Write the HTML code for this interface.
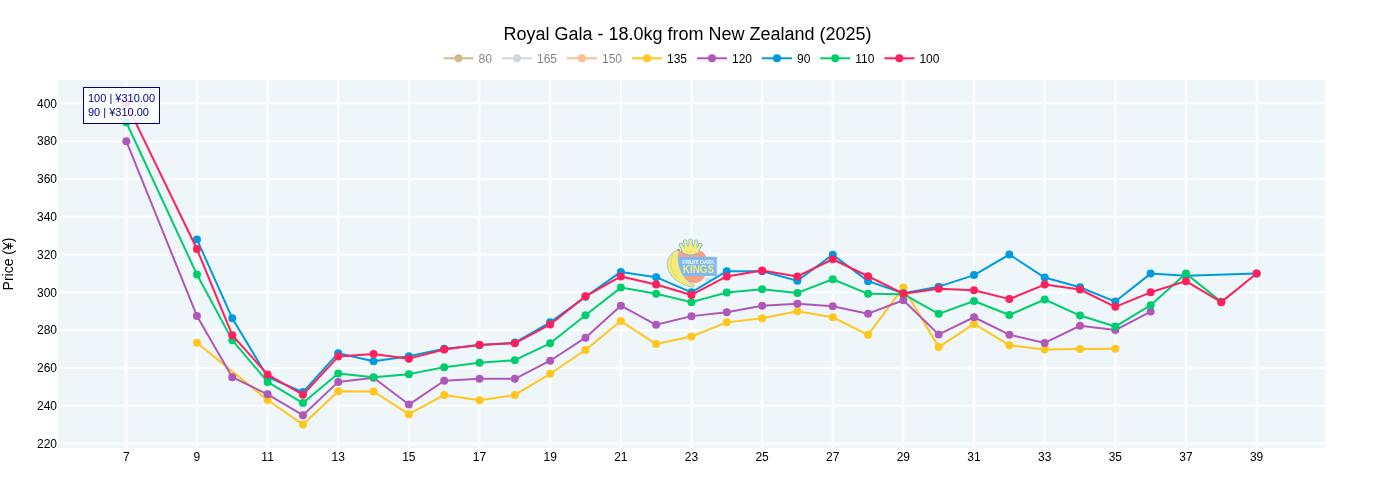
<!DOCTYPE html>
<html lang="en"><head><meta charset="utf-8"><title>Royal Gala - 18.0kg from New Zealand (2025)</title>
<style>html,body{margin:0;padding:0;background:#fff}body{width:1375px;height:500px;overflow:hidden}svg{display:block}text{font-family:"Liberation Sans",Arial,sans-serif;}</style>
</head><body>
<svg width="1375" height="500" viewBox="0 0 1375 500">
<rect width="1375" height="500" fill="#fff"/>
<rect x="58" y="80" width="1267" height="368" fill="#EEF6FA"/>
<g stroke="#fff" stroke-width="2" fill="none">
<path d="M126.30,80V448"/>
<path d="M196.94,80V448"/>
<path d="M267.59,80V448"/>
<path d="M338.23,80V448"/>
<path d="M408.88,80V448"/>
<path d="M479.52,80V448"/>
<path d="M550.16,80V448"/>
<path d="M620.81,80V448"/>
<path d="M691.45,80V448"/>
<path d="M762.10,80V448"/>
<path d="M832.74,80V448"/>
<path d="M903.38,80V448"/>
<path d="M974.03,80V448"/>
<path d="M1044.67,80V448"/>
<path d="M1115.32,80V448"/>
<path d="M1185.96,80V448"/>
<path d="M1256.60,80V448"/>
<path d="M58,443.50H1325"/>
<path d="M58,405.70H1325"/>
<path d="M58,367.91H1325"/>
<path d="M58,330.11H1325"/>
<path d="M58,292.32H1325"/>
<path d="M58,254.53H1325"/>
<path d="M58,216.73H1325"/>
<path d="M58,178.94H1325"/>
<path d="M58,141.14H1325"/>
<path d="M58,103.35H1325"/>
</g>
<g id="logo">
<path d="M678.5,250.8 L699.4,250.8 C704.6,251.4 707.8,257 707.8,265 C707.8,275 702.4,283.1 694.4,283.1 C686,283.1 679.4,277 677.4,268 Z" fill="#FA9F86"/>
<rect x="678.2" y="257" width="38.6" height="19" fill="#7DB9F8"/>
<path d="M677.5,249.9 C670.2,252.6 666.6,259.4 667.4,266.4 C668.6,276.6 680.2,285.6 693.2,287.2 L694.8,285.2 C688.0,282.8 681.8,275.4 679.2,266.4 C677.6,259.6 677.9,254.6 679.5,251.2 Z" fill="#F5EC78" stroke="#8CC3F5" stroke-width="0.9" stroke-linejoin="round"/>
<path d="M672.6,254.6 C669.6,261 670.6,270 676.4,277" fill="none" stroke="#E6DA6C" stroke-width="1.2" stroke-linecap="round"/>
<path d="M677.0,250.2 L677.9,248.7 L680.1,249.7 L679.6,251.5 Z" fill="#A98667"/>
<g fill="#F6EE72" stroke="#7ABAF6" stroke-width="1.7" stroke-linejoin="round"><path d="M683.0,252.4 L680.3,245.5 L681.7,244.9 L684.5,248.5 L684.6,241.9 L685.9,241.8 L688.0,248.0 L690.0,240.9 L691.2,240.9 L693.2,248.0 L695.3,241.8 L696.6,241.9 L696.7,248.5 L699.5,244.9 L700.9,245.5 L698.2,252.4 Q690.6,256.6 683.0,252.4 Z"/><circle cx="681.0" cy="245.1" r="1.45"/><circle cx="685.2" cy="241.8" r="1.45"/><circle cx="690.6" cy="240.8" r="1.45"/><circle cx="696.0" cy="241.8" r="1.45"/><circle cx="700.2" cy="245.1" r="1.45"/></g>
<g fill="#F6EE72"><path d="M683.0,252.4 L680.3,245.5 L681.7,244.9 L684.5,248.5 L684.6,241.9 L685.9,241.8 L688.0,248.0 L690.0,240.9 L691.2,240.9 L693.2,248.0 L695.3,241.8 L696.6,241.9 L696.7,248.5 L699.5,244.9 L700.9,245.5 L698.2,252.4 Q690.6,256.6 683.0,252.4 Z"/><circle cx="681.0" cy="245.1" r="1.45"/><circle cx="685.2" cy="241.8" r="1.45"/><circle cx="690.6" cy="240.8" r="1.45"/><circle cx="696.0" cy="241.8" r="1.45"/><circle cx="700.2" cy="245.1" r="1.45"/></g>
<g fill="#A9CDE8"><circle cx="686.4" cy="251.3" r="0.55"/><circle cx="690.6" cy="251.6" r="0.55"/><circle cx="694.7" cy="251.3" r="0.55"/></g>
<text x="682.6" y="263.6" font-size="5" fill="#FFFFFF" stroke="#FFFFFF" stroke-width="0.15" textLength="31.2" lengthAdjust="spacingAndGlyphs">FRUIT DATA</text>
<text x="682.8" y="272.7" font-size="10.3" font-weight="bold" fill="#F5EC78" textLength="31.4" lengthAdjust="spacingAndGlyphs">KINGS</text>
<text x="704.9" y="280.5" font-size="2.8" font-weight="bold" fill="#8CC3F5" textLength="6" lengthAdjust="spacingAndGlyphs">.COM</text>
</g>
<defs><clipPath id="pc"><rect x="58" y="80" width="1267" height="368"/></clipPath></defs>
<g clip-path="url(#pc)">
<path d="M196.94,342.77 L267.59,400.03 L302.91,424.60 L338.23,391.34 L373.55,391.53 L408.88,414.21 L444.20,394.93 L479.52,400.22 L514.84,394.93 L550.16,373.77 L585.49,349.96 L620.81,321.04 L656.13,344.10 L691.45,336.54 L726.77,322.37 L762.10,318.21 L797.42,311.22 L832.74,317.26 L868.06,334.84 L903.38,287.41 L938.71,347.12 L974.03,323.88 L1009.35,345.23 L1044.67,349.39 L1079.99,349.01 L1115.32,348.82" fill="none" stroke="#FFC61E" stroke-width="2" stroke-linejoin="round"/>
<g fill="#FFC61E"><circle cx="196.94" cy="342.77" r="4"/><circle cx="267.59" cy="400.03" r="4"/><circle cx="302.91" cy="424.60" r="4"/><circle cx="338.23" cy="391.34" r="4"/><circle cx="373.55" cy="391.53" r="4"/><circle cx="408.88" cy="414.21" r="4"/><circle cx="444.20" cy="394.93" r="4"/><circle cx="479.52" cy="400.22" r="4"/><circle cx="514.84" cy="394.93" r="4"/><circle cx="550.16" cy="373.77" r="4"/><circle cx="585.49" cy="349.96" r="4"/><circle cx="620.81" cy="321.04" r="4"/><circle cx="656.13" cy="344.10" r="4"/><circle cx="691.45" cy="336.54" r="4"/><circle cx="726.77" cy="322.37" r="4"/><circle cx="762.10" cy="318.21" r="4"/><circle cx="797.42" cy="311.22" r="4"/><circle cx="832.74" cy="317.26" r="4"/><circle cx="868.06" cy="334.84" r="4"/><circle cx="903.38" cy="287.41" r="4"/><circle cx="938.71" cy="347.12" r="4"/><circle cx="974.03" cy="323.88" r="4"/><circle cx="1009.35" cy="345.23" r="4"/><circle cx="1044.67" cy="349.39" r="4"/><circle cx="1079.99" cy="349.01" r="4"/><circle cx="1115.32" cy="348.82" r="4"/></g>
<path d="M126.30,141.14 L196.94,315.94 L232.27,377.17 L267.59,394.36 L302.91,415.15 L338.23,381.89 L373.55,377.73 L408.88,404.57 L444.20,380.76 L479.52,378.87 L514.84,378.87 L550.16,360.73 L585.49,337.67 L620.81,305.74 L656.13,324.82 L691.45,316.13 L726.77,312.35 L762.10,305.74 L797.42,303.85 L832.74,306.30 L868.06,313.67 L903.38,300.26 L938.71,334.46 L974.03,317.26 L1009.35,334.65 L1044.67,342.96 L1079.99,325.77 L1115.32,330.11 L1150.64,311.59" fill="none" stroke="#AF58BA" stroke-width="2" stroke-linejoin="round"/>
<g fill="#AF58BA"><circle cx="126.30" cy="141.14" r="4"/><circle cx="196.94" cy="315.94" r="4"/><circle cx="232.27" cy="377.17" r="4"/><circle cx="267.59" cy="394.36" r="4"/><circle cx="302.91" cy="415.15" r="4"/><circle cx="338.23" cy="381.89" r="4"/><circle cx="373.55" cy="377.73" r="4"/><circle cx="408.88" cy="404.57" r="4"/><circle cx="444.20" cy="380.76" r="4"/><circle cx="479.52" cy="378.87" r="4"/><circle cx="514.84" cy="378.87" r="4"/><circle cx="550.16" cy="360.73" r="4"/><circle cx="585.49" cy="337.67" r="4"/><circle cx="620.81" cy="305.74" r="4"/><circle cx="656.13" cy="324.82" r="4"/><circle cx="691.45" cy="316.13" r="4"/><circle cx="726.77" cy="312.35" r="4"/><circle cx="762.10" cy="305.74" r="4"/><circle cx="797.42" cy="303.85" r="4"/><circle cx="832.74" cy="306.30" r="4"/><circle cx="868.06" cy="313.67" r="4"/><circle cx="903.38" cy="300.26" r="4"/><circle cx="938.71" cy="334.46" r="4"/><circle cx="974.03" cy="317.26" r="4"/><circle cx="1009.35" cy="334.65" r="4"/><circle cx="1044.67" cy="342.96" r="4"/><circle cx="1079.99" cy="325.77" r="4"/><circle cx="1115.32" cy="330.11" r="4"/><circle cx="1150.64" cy="311.59" r="4"/></g>
<path d="M196.94,239.41 L232.27,318.21 L267.59,376.98 L302.91,392.10 L338.23,353.17 L373.55,361.29 L408.88,356.19 L444.20,348.63 L479.52,345.23 L514.84,342.59 L550.16,322.37 L585.49,296.86 L620.81,271.91 L656.13,277.20 L691.45,292.32 L726.77,271.16 L762.10,271.16 L797.42,280.79 L832.74,254.71 L868.06,281.17 L903.38,293.26 L938.71,286.65 L974.03,275.12 L1009.35,254.53 L1044.67,277.58 L1079.99,287.22 L1115.32,301.58 L1150.64,273.61 L1185.96,275.69 L1256.60,273.42" fill="none" stroke="#009ADE" stroke-width="2" stroke-linejoin="round"/>
<g fill="#009ADE"><circle cx="196.94" cy="239.41" r="4"/><circle cx="232.27" cy="318.21" r="4"/><circle cx="267.59" cy="376.98" r="4"/><circle cx="302.91" cy="392.10" r="4"/><circle cx="338.23" cy="353.17" r="4"/><circle cx="373.55" cy="361.29" r="4"/><circle cx="408.88" cy="356.19" r="4"/><circle cx="444.20" cy="348.63" r="4"/><circle cx="479.52" cy="345.23" r="4"/><circle cx="514.84" cy="342.59" r="4"/><circle cx="550.16" cy="322.37" r="4"/><circle cx="585.49" cy="296.86" r="4"/><circle cx="620.81" cy="271.91" r="4"/><circle cx="656.13" cy="277.20" r="4"/><circle cx="691.45" cy="292.32" r="4"/><circle cx="726.77" cy="271.16" r="4"/><circle cx="762.10" cy="271.16" r="4"/><circle cx="797.42" cy="280.79" r="4"/><circle cx="832.74" cy="254.71" r="4"/><circle cx="868.06" cy="281.17" r="4"/><circle cx="903.38" cy="293.26" r="4"/><circle cx="938.71" cy="286.65" r="4"/><circle cx="974.03" cy="275.12" r="4"/><circle cx="1009.35" cy="254.53" r="4"/><circle cx="1044.67" cy="277.58" r="4"/><circle cx="1079.99" cy="287.22" r="4"/><circle cx="1115.32" cy="301.58" r="4"/><circle cx="1150.64" cy="273.61" r="4"/><circle cx="1185.96" cy="275.69" r="4"/><circle cx="1256.60" cy="273.42" r="4"/></g>
<path d="M126.30,122.25 L196.94,274.56 L232.27,340.13 L267.59,381.89 L302.91,403.06 L338.23,373.58 L373.55,377.17 L408.88,374.14 L444.20,367.34 L479.52,362.81 L514.84,360.16 L550.16,343.34 L585.49,315.19 L620.81,287.60 L656.13,293.83 L691.45,302.15 L726.77,292.51 L762.10,289.30 L797.42,292.89 L832.74,279.28 L868.06,293.83 L903.38,294.21 L938.71,313.86 L974.03,301.01 L1009.35,315.00 L1044.67,299.50 L1079.99,315.56 L1115.32,326.52 L1150.64,305.17 L1185.96,273.61 L1221.28,301.77" fill="none" stroke="#00CD6C" stroke-width="2" stroke-linejoin="round"/>
<g fill="#00CD6C"><circle cx="126.30" cy="122.25" r="4"/><circle cx="196.94" cy="274.56" r="4"/><circle cx="232.27" cy="340.13" r="4"/><circle cx="267.59" cy="381.89" r="4"/><circle cx="302.91" cy="403.06" r="4"/><circle cx="338.23" cy="373.58" r="4"/><circle cx="373.55" cy="377.17" r="4"/><circle cx="408.88" cy="374.14" r="4"/><circle cx="444.20" cy="367.34" r="4"/><circle cx="479.52" cy="362.81" r="4"/><circle cx="514.84" cy="360.16" r="4"/><circle cx="550.16" cy="343.34" r="4"/><circle cx="585.49" cy="315.19" r="4"/><circle cx="620.81" cy="287.60" r="4"/><circle cx="656.13" cy="293.83" r="4"/><circle cx="691.45" cy="302.15" r="4"/><circle cx="726.77" cy="292.51" r="4"/><circle cx="762.10" cy="289.30" r="4"/><circle cx="797.42" cy="292.89" r="4"/><circle cx="832.74" cy="279.28" r="4"/><circle cx="868.06" cy="293.83" r="4"/><circle cx="903.38" cy="294.21" r="4"/><circle cx="938.71" cy="313.86" r="4"/><circle cx="974.03" cy="301.01" r="4"/><circle cx="1009.35" cy="315.00" r="4"/><circle cx="1044.67" cy="299.50" r="4"/><circle cx="1079.99" cy="315.56" r="4"/><circle cx="1115.32" cy="326.52" r="4"/><circle cx="1150.64" cy="305.17" r="4"/><circle cx="1185.96" cy="273.61" r="4"/><circle cx="1221.28" cy="301.77" r="4"/></g>
<path d="M126.30,103.35 L196.94,249.05 L232.27,335.22 L267.59,374.52 L302.91,394.74 L338.23,356.57 L373.55,354.11 L408.88,358.65 L444.20,349.58 L479.52,344.85 L514.84,343.34 L550.16,324.44 L585.49,296.29 L620.81,276.45 L656.13,284.57 L691.45,294.97 L726.77,276.45 L762.10,270.40 L797.42,276.45 L832.74,259.25 L868.06,276.26 L903.38,293.64 L938.71,288.73 L974.03,290.24 L1009.35,299.12 L1044.67,284.57 L1079.99,289.49 L1115.32,306.87 L1150.64,292.32 L1185.96,281.17 L1221.28,302.15 L1256.60,273.42" fill="none" stroke="#FF1F5B" stroke-width="2" stroke-linejoin="round"/>
<g fill="#FF1F5B"><circle cx="126.30" cy="103.35" r="4"/><circle cx="196.94" cy="249.05" r="4"/><circle cx="232.27" cy="335.22" r="4"/><circle cx="267.59" cy="374.52" r="4"/><circle cx="302.91" cy="394.74" r="4"/><circle cx="338.23" cy="356.57" r="4"/><circle cx="373.55" cy="354.11" r="4"/><circle cx="408.88" cy="358.65" r="4"/><circle cx="444.20" cy="349.58" r="4"/><circle cx="479.52" cy="344.85" r="4"/><circle cx="514.84" cy="343.34" r="4"/><circle cx="550.16" cy="324.44" r="4"/><circle cx="585.49" cy="296.29" r="4"/><circle cx="620.81" cy="276.45" r="4"/><circle cx="656.13" cy="284.57" r="4"/><circle cx="691.45" cy="294.97" r="4"/><circle cx="726.77" cy="276.45" r="4"/><circle cx="762.10" cy="270.40" r="4"/><circle cx="797.42" cy="276.45" r="4"/><circle cx="832.74" cy="259.25" r="4"/><circle cx="868.06" cy="276.26" r="4"/><circle cx="903.38" cy="293.64" r="4"/><circle cx="938.71" cy="288.73" r="4"/><circle cx="974.03" cy="290.24" r="4"/><circle cx="1009.35" cy="299.12" r="4"/><circle cx="1044.67" cy="284.57" r="4"/><circle cx="1079.99" cy="289.49" r="4"/><circle cx="1115.32" cy="306.87" r="4"/><circle cx="1150.64" cy="292.32" r="4"/><circle cx="1185.96" cy="281.17" r="4"/><circle cx="1221.28" cy="302.15" r="4"/><circle cx="1256.60" cy="273.42" r="4"/></g>
</g>
<g font-size="12" fill="#000" text-anchor="middle">
<text x="126.30" y="461">7</text>
<text x="196.94" y="461">9</text>
<text x="267.59" y="461">11</text>
<text x="338.23" y="461">13</text>
<text x="408.88" y="461">15</text>
<text x="479.52" y="461">17</text>
<text x="550.16" y="461">19</text>
<text x="620.81" y="461">21</text>
<text x="691.45" y="461">23</text>
<text x="762.10" y="461">25</text>
<text x="832.74" y="461">27</text>
<text x="903.38" y="461">29</text>
<text x="974.03" y="461">31</text>
<text x="1044.67" y="461">33</text>
<text x="1115.32" y="461">35</text>
<text x="1185.96" y="461">37</text>
<text x="1256.60" y="461">39</text>
</g>
<g font-size="12" fill="#000" text-anchor="end">
<text x="57" y="447.70">220</text>
<text x="57" y="409.90">240</text>
<text x="57" y="372.11">260</text>
<text x="57" y="334.31">280</text>
<text x="57" y="296.52">300</text>
<text x="57" y="258.73">320</text>
<text x="57" y="220.93">340</text>
<text x="57" y="183.14">360</text>
<text x="57" y="145.34">380</text>
<text x="57" y="107.55">400</text>
</g>
<text transform="translate(13.4,264) rotate(-90)" font-size="14" text-anchor="middle" fill="#000">Price (¥)</text>
<text x="687.5" y="40" font-size="18" text-anchor="middle" fill="#000">Royal Gala - 18.0kg from New Zealand (2025)</text>
<g opacity="0.5"><path d="M443.5,58.3h30" stroke="#A6761D" stroke-width="2"/><circle cx="458.5" cy="58.3" r="4" fill="#A6761D"/><text x="478.5" y="62.5" font-size="12" fill="#000">80</text></g>
<g opacity="0.5"><path d="M502,58.3h30" stroke="#A0B1BA" stroke-width="2"/><circle cx="517" cy="58.3" r="4" fill="#A0B1BA"/><text x="537" y="62.5" font-size="12" fill="#000">165</text></g>
<g opacity="0.5"><path d="M567,58.3h30" stroke="#F28522" stroke-width="2"/><circle cx="582" cy="58.3" r="4" fill="#F28522"/><text x="602" y="62.5" font-size="12" fill="#000">150</text></g>
<g opacity="1"><path d="M632,58.3h30" stroke="#FFC61E" stroke-width="2"/><circle cx="647" cy="58.3" r="4" fill="#FFC61E"/><text x="667" y="62.5" font-size="12" fill="#000">135</text></g>
<g opacity="1"><path d="M697,58.3h30" stroke="#AF58BA" stroke-width="2"/><circle cx="712" cy="58.3" r="4" fill="#AF58BA"/><text x="732" y="62.5" font-size="12" fill="#000">120</text></g>
<g opacity="1"><path d="M762,58.3h30" stroke="#009ADE" stroke-width="2"/><circle cx="777" cy="58.3" r="4" fill="#009ADE"/><text x="797" y="62.5" font-size="12" fill="#000">90</text></g>
<g opacity="1"><path d="M820.2,58.3h30" stroke="#00CD6C" stroke-width="2"/><circle cx="835.2" cy="58.3" r="4" fill="#00CD6C"/><text x="855.2" y="62.5" font-size="12" fill="#000">110</text></g>
<g opacity="1"><path d="M884.4,58.3h30" stroke="#FF1F5B" stroke-width="2"/><circle cx="899.4" cy="58.3" r="4" fill="#FF1F5B"/><text x="919.4" y="62.5" font-size="12" fill="#000">100</text></g>
<rect x="83.5" y="87.5" width="76" height="36" fill="#fff" fill-opacity="0.85" stroke="#000080" stroke-width="1"/>
<text font-size="11" fill="#000080"><tspan x="88" y="102">100 | ¥310.00</tspan><tspan x="88" y="116">90 | ¥310.00</tspan></text>
</svg>
</body></html>
